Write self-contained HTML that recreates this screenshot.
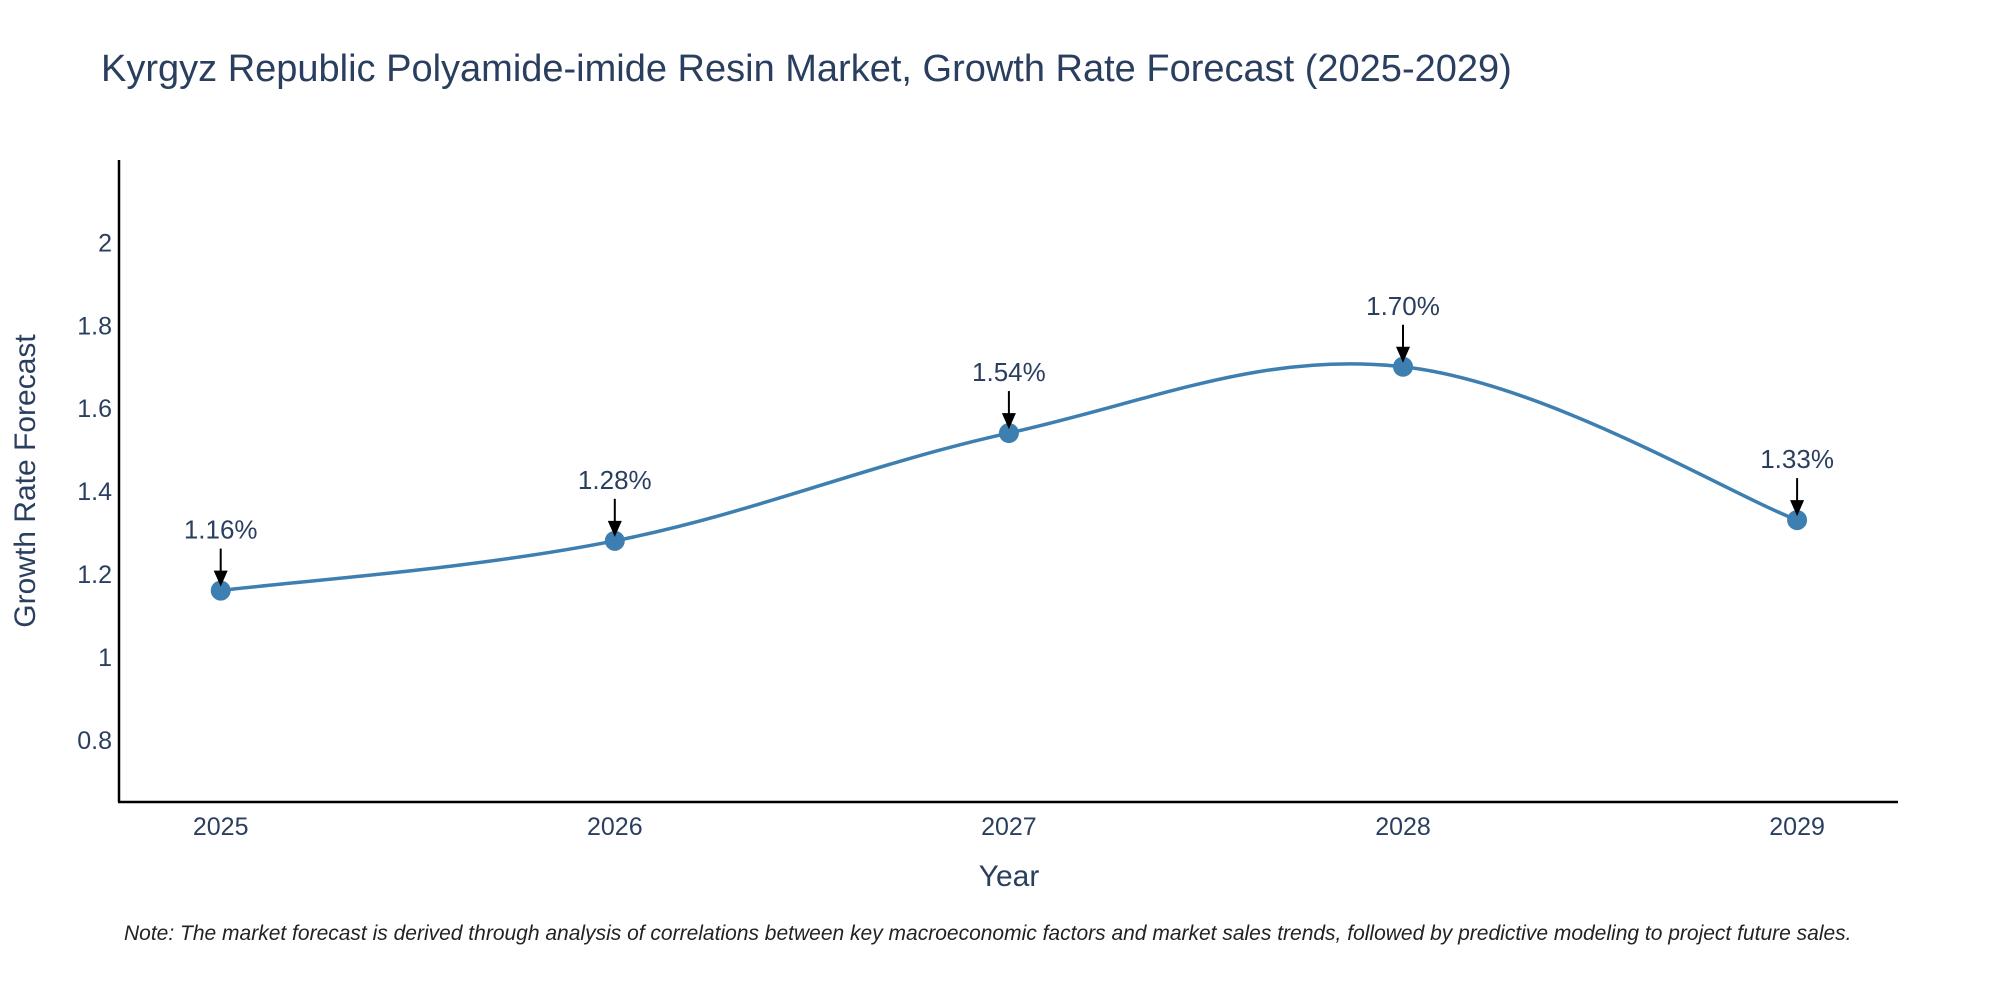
<!DOCTYPE html>
<html><head><meta charset="utf-8"><style>
body{margin:0;background:#fff;}
svg{display:block;font-family:"Liberation Sans",sans-serif;}
</style></head><body>
<svg id="chart" width="2000" height="1000">
<text x="101" y="81" font-size="38" fill="#2a3f5f">Kyrgyz Republic Polyamide-imide Resin Market, Growth Rate Forecast (2025-2029)</text>
<g id="yticks"></g>
<g id="xticks"></g>
<line x1="119" y1="160" x2="119" y2="802" stroke="#000" stroke-width="2.5"/>
<line x1="118" y1="802" x2="1898" y2="802" stroke="#000" stroke-width="2.5"/>
<path id="line" fill="none" stroke="#3d7fb0" stroke-width="3.5"/>
<g id="points"></g>
<g id="annots"></g>
<text x="1009" y="886" font-size="30" fill="#2a3f5f" text-anchor="middle">Year</text>
<text transform="translate(35,481) rotate(-90)" font-size="30" fill="#2a3f5f" text-anchor="middle">Growth Rate Forecast</text>
<text x="124" y="940" font-size="21" font-style="italic" fill="#222">Note: The market forecast is derived through analysis of correlations between key macroeconomic factors and market sales trends, followed by predictive modeling to project future sales.</text>
</svg>
<script>
const years=[2025,2026,2027,2028,2029];
const values=[1.16,1.28,1.54,1.70,1.33];
const labels=["1.16%","1.28%","1.54%","1.70%","1.33%"];
const yTicks=[0.8,1,1.2,1.4,1.6,1.8,2];
const yTickLabels=["0.8","1","1.2","1.4","1.6","1.8","2"];
const NS="http://www.w3.org/2000/svg";
function X(v){return 220.7+(v-2025)*394.1;}
function Y(v){return 656.9-(v-1)*414.5;}
function mk(t,a,p){const e=document.createElementNS(NS,t);for(const k in a)e.setAttribute(k,a[k]);p.appendChild(e);return e;}
const yt=document.getElementById('yticks');
yTicks.forEach((v,i)=>{const t=mk('text',{x:112,y:Y(v)+9,'font-size':25,fill:'#2a3f5f','text-anchor':'end'},yt);t.textContent=yTickLabels[i];

});
const xt=document.getElementById('xticks');
years.forEach(v=>{const t=mk('text',{x:X(v),y:835,'font-size':25,fill:'#2a3f5f','text-anchor':'middle'},xt);t.textContent=v;

});
const P=years.map((y,i)=>[X(y),Y(values[i])]);
let d='M'+P[0][0]+','+P[0][1];const k=0.18;
for(let i=0;i<P.length-1;i++){const p0=P[Math.max(i-1,0)],p1=P[i],p2=P[i+1],p3=P[Math.min(i+2,P.length-1)];
const c1=[p1[0]+(p2[0]-p0[0])*k,p1[1]+(p2[1]-p0[1])*k],c2=[p2[0]-(p3[0]-p1[0])*k,p2[1]-(p3[1]-p1[1])*k];
d+=' C'+c1+' '+c2+' '+p2;}
document.getElementById('line').setAttribute('d',d);
const pg=document.getElementById('points'),ag=document.getElementById('annots');
P.forEach((p,i)=>{const c=mk('circle',{cx:p[0],cy:p[1],r:10,fill:'#3d7fb0'},pg);


const l=mk('line',{x1:p[0],y1:p[1]-42,x2:p[0],y2:p[1]-14,stroke:'#000','stroke-width':2},ag);


const h=mk('path',{d:`M${p[0]-7},${p[1]-20} L${p[0]+7},${p[1]-20} L${p[0]},${p[1]-4} Z`,fill:'#000'},ag);


const t=mk('text',{x:p[0],y:p[1]-52,'font-size':26,fill:'#2a3f5f','text-anchor':'middle'},ag);t.textContent=labels[i];

});
</script>
</body></html>
